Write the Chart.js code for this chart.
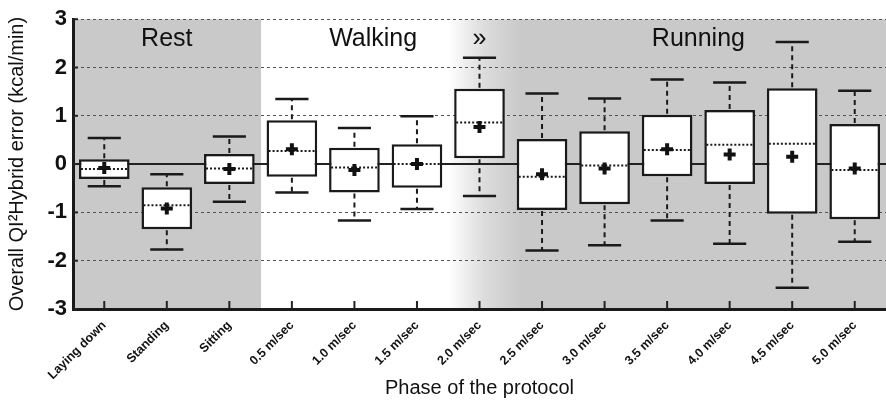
<!DOCTYPE html>
<html>
<head>
<meta charset="utf-8">
<script src="https://cdn.jsdelivr.net/npm/chart.js@4"></script>
<style>
  html, body { margin: 0; padding: 0; background: #fff; }
  #wrap { width: 886px; height: 402px; position: relative; }
</style>
</head>
<body>
<div id="wrap"><canvas id="boxChart"></canvas></div>
<script>
var phases = ["Laying down", "Standing", "Sitting", "0.5 m/sec", "1.0 m/sec", "1.5 m/sec", "2.0 m/sec",
              "2.5 m/sec", "3.0 m/sec", "3.5 m/sec", "4.0 m/sec", "4.5 m/sec", "5.0 m/sec"];
var whiskerLow  = [-0.46, -1.77, -0.78, -0.59, -1.17, -0.93, -0.66, -1.79, -1.68, -1.17, -1.65, -2.56, -1.61];
var q1Values    = [-0.31, -1.35, -0.41, -0.26, -0.59, -0.49,  0.12, -0.95, -0.83, -0.25, -0.41, -1.03, -1.14];
var medians     = [-0.10, -0.85, -0.09,  0.27, -0.07,  0.00,  0.86, -0.26, -0.03,  0.29,  0.40,  0.42, -0.12];
var q3Values    = [ 0.10, -0.48,  0.21,  0.91,  0.34,  0.41,  1.56,  0.52,  0.68,  1.02,  1.12,  1.57,  0.83];
var whiskerHigh = [ 0.54, -0.21,  0.57,  1.35,  0.75,  0.99,  2.20,  1.46,  1.36,  1.75,  1.69,  2.53,  1.52];
var means       = [-0.08, -0.92, -0.10,  0.31, -0.12,  0.00,  0.77, -0.21, -0.09,  0.31,  0.20,  0.15, -0.09];
var yTicks = [-3, -2, -1, 0, 1, 2, 3];
var sections = [["Rest", 1], ["Walking", 4.3], ["\u00bb", 6], ["Running", 9.5]];

var FONT = '"Liberation Sans", Arial, sans-serif';
var GREY = "#c9c9c9";

var boxPlugin = {
  id: "boxPlugin",
  beforeDraw: function(chart) {
    var ctx = chart.ctx, a = chart.chartArea, x = chart.scales.x;
    var restEnd = Math.round((x.getPixelForValue(2) + x.getPixelForValue(3)) / 2);
    var gStart = Math.round((x.getPixelForValue(5) + x.getPixelForValue(6)) / 2);
    var gEnd = Math.round((x.getPixelForValue(6) + x.getPixelForValue(7)) / 2) + 10;
    ctx.save();
    ctx.fillStyle = GREY;
    ctx.fillRect(a.left, a.top, restEnd - a.left, a.bottom - a.top);
    ctx.fillRect(gEnd - 1, a.top, a.right - gEnd + 1, a.bottom - a.top);
    var g = ctx.createLinearGradient(gStart, 0, gEnd, 0);
    g.addColorStop(0, "#ffffff");
    g.addColorStop(0.5, "#dcdcdc");
    g.addColorStop(1, GREY);
    ctx.fillStyle = g;
    ctx.fillRect(gStart, a.top, gEnd - gStart, a.bottom - a.top);
    ctx.restore();
  },
  beforeDatasetsDraw: function(chart) {
    var ctx = chart.ctx, a = chart.chartArea, x = chart.scales.x, y = chart.scales.y;
    ctx.save();
    // zero line
    var y0 = y.getPixelForValue(0);
    ctx.strokeStyle = "#222";
    ctx.lineWidth = 2;
    ctx.beginPath();
    ctx.moveTo(a.left, y0);
    ctx.lineTo(a.right, y0);
    ctx.stroke();
    // inner ticks
    phases.forEach(function(p, i) {
      var px = x.getPixelForValue(i);
      ctx.beginPath();
      ctx.moveTo(px, a.bottom);
      ctx.lineTo(px, a.bottom - 8);
      ctx.stroke();
    });
    yTicks.forEach(function(v) {
      var py = y.getPixelForValue(v);
      ctx.beginPath();
      ctx.moveTo(a.left, py);
      ctx.lineTo(a.left + 5, py);
      ctx.stroke();
    });
    // section names
    ctx.fillStyle = "#111";
    ctx.font = "25px " + FONT;
    ctx.textAlign = "center";
    ctx.textBaseline = "middle";
    sections.forEach(function(s) {
      ctx.fillText(s[0], x.getPixelForValue(s[1]), a.top + 20);
    });
    ctx.restore();
  },
  afterDatasetDraw: function(chart, args) {
    if (args.index !== 0) return;
    var ctx = chart.ctx, x = chart.scales.x, y = chart.scales.y;
    var step = x.getPixelForValue(1) - x.getPixelForValue(0);
    var boxW = step * 0.81, capW = step * 0.53;
    ctx.save();
    ctx.strokeStyle = "#1a1a1a";
    phases.forEach(function(p, i) {
      var cx = x.getPixelForValue(i);
      var yq1 = y.getPixelForValue(q1Values[i]), yq3 = y.getPixelForValue(q3Values[i]);
      var ylo = y.getPixelForValue(whiskerLow[i]), yhi = y.getPixelForValue(whiskerHigh[i]);
      var ymed = y.getPixelForValue(medians[i]);
      // dashed whiskers
      ctx.lineWidth = 2;
      ctx.setLineDash([5, 4]);
      ctx.beginPath();
      ctx.moveTo(cx, yq3 - 1);
      ctx.lineTo(cx, yhi);
      ctx.moveTo(cx, yq1 + 1);
      ctx.lineTo(cx, ylo);
      ctx.stroke();
      // caps
      ctx.setLineDash([]);
      ctx.lineWidth = 2.5;
      ctx.beginPath();
      ctx.moveTo(cx - capW / 2, yhi);
      ctx.lineTo(cx + capW / 2, yhi);
      ctx.moveTo(cx - capW / 2, ylo);
      ctx.lineTo(cx + capW / 2, ylo);
      ctx.stroke();
      // dotted median
      ctx.lineWidth = 2;
      ctx.setLineDash([2, 2]);
      ctx.beginPath();
      ctx.moveTo(cx - boxW / 2 + 2, ymed);
      ctx.lineTo(cx + boxW / 2 - 2, ymed);
      ctx.stroke();
    });
    ctx.restore();
  }
};

new Chart("boxChart", {
  type: "bar",
  data: {
    labels: phases,
    datasets: [{
      data: phases.map(function(p, i) { return [q1Values[i], q3Values[i]]; }),
      backgroundColor: "#ffffff",
      borderColor: "#1a1a1a",
      borderWidth: 2.5,
      borderSkipped: false,
      barPercentage: 0.81,
      categoryPercentage: 1,
      order: 2
    }, {
      type: "line",
      data: means,
      showLine: false,
      pointStyle: "cross",
      pointRadius: 6,
      pointBorderWidth: 4,
      pointBorderColor: "#111",
      pointBackgroundColor: "#111",
      order: 1
    }]
  },
  options: {
    responsive: true,
    maintainAspectRatio: false,
    animation: false,
    layout: { autoPadding: false, padding: { top: 8, right: 0, left: 0, bottom: 0 } },
    plugins: { legend: { display: false }, tooltip: { enabled: false } },
    scales: {
      x: {
        offset: true,
        grid: { display: false, drawTicks: false },
        border: { display: true, color: "#1a1a1a", width: 3 },
        ticks: {
          color: "#111",
          font: { family: FONT, size: 12.5, weight: "bold" },
          minRotation: 45,
          maxRotation: 45,
          padding: 9,
          autoSkip: false
        },
        title: {
          display: true,
          text: "Phase of the protocol",
          color: "#111",
          font: { family: FONT, size: 20 },
          padding: { top: 0, bottom: 2 }
        },
        afterFit: function(scale) { scale.height = 93; scale.paddingRight = 0; }
      },
      y: {
        min: -3,
        max: 3,
        grid: {
          drawTicks: false,
          lineWidth: 1,
          color: function(c) {
            var v = c.tick && c.tick.value;
            return (v === 0 || v === -3) ? "rgba(0,0,0,0)" : "#555";
          }
        },
        border: { display: true, color: "#1a1a1a", width: 3, dash: [3, 3] },
        ticks: {
          stepSize: 1,
          color: "#111",
          font: { family: FONT, size: 22, weight: "bold" },
          padding: 6
        },
        title: {
          display: true,
          text: "Overall QI\u00b2Hybrid error (kcal/min)",
          color: "#111",
          font: { family: FONT, size: 20 },
          padding: { top: 5, bottom: 0 }
        },
        afterFit: function(scale) { scale.width = 73; }
      }
    }
  },
  plugins: [boxPlugin]
});
</script>
</body>
</html>
